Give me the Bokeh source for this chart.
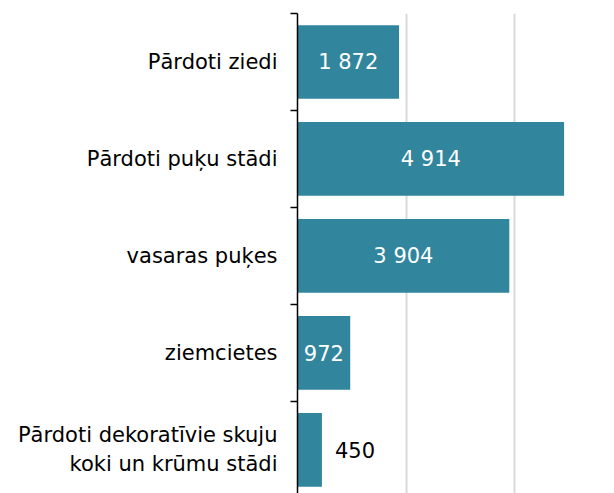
from bokeh.plotting import figure
from bokeh.models import Range1d, FixedTicker, ColumnDataSource
from bokeh.core.properties import value
from bokeh.embed import file_html
from bokeh.resources import INLINE

categories = ["Pārdoti ziedi", "Pārdoti puķu stādi", "vasaras puķes", "ziemcietes",
              "Pārdoti dekoratīvie skuju\nkoki un krūmu stādi"]
values = [1872, 4914, 3904, 972, 450]
grid_ticks = [2000, 4000]

FONT = "DejaVu Sans"
BAR = "#31859C"

ys = list(range(len(categories)))
labels = [f"{v:,}".replace(",", " ") for v in values]

p = figure(width=614, height=493, output_backend="svg", toolbar_location=None,
           x_range=Range1d(0, 5843), y_range=Range1d(4.45, -0.5),
           min_border_left=297, min_border_right=0, min_border_top=13, min_border_bottom=0)
p.outline_line_color = None
p.background_fill_color = "white"

p.hbar(y=ys, right=values, left=0, height=0.76, fill_color=BAR, line_color=None)

inside = [v >= 700 for v in values]
src_in = ColumnDataSource(dict(x=[v / 2 for v, i in zip(values, inside) if i],
                               y=[y for y, i in zip(ys, inside) if i],
                               t=[l for l, i in zip(labels, inside) if i]))
src_out = ColumnDataSource(dict(x=[v for v, i in zip(values, inside) if not i],
                                y=[y for y, i in zip(ys, inside) if not i],
                                t=[l for l, i in zip(labels, inside) if not i]))
p.text(x="x", y="y", text="t", source=src_in, text_color="white", text_align="center",
       text_baseline="middle", text_font=value(FONT), text_font_size="21px")
p.text(x="x", y="y", text="t", source=src_out, text_color="black", text_align="left",
       text_baseline="middle", x_offset=13, text_font=value(FONT), text_font_size="21px")

p.xaxis.visible = False
p.xgrid.ticker = FixedTicker(ticks=grid_ticks)
p.xgrid.grid_line_color = "#d9d9d9"
p.xgrid.grid_line_width = 2
p.ygrid.grid_line_color = None

yax = p.yaxis[0]
yax.ticker = FixedTicker(ticks=ys, minor_ticks=[y - 0.5 for y in ys] + [len(ys) - 0.5])
yax.major_label_overrides = {y: c for y, c in zip(ys, categories)}
yax.major_tick_out = 0
yax.major_tick_in = 0
yax.minor_tick_out = 7
yax.minor_tick_in = 0
yax.minor_tick_line_color = "black"
yax.minor_tick_line_width = 1.5
yax.axis_line_color = "black"
yax.axis_line_width = 1.5
yax.major_label_standoff = 13
yax.major_label_text_font = FONT
yax.major_label_text_font_size = "21px"
yax.major_label_text_color = "black"

open("out.html", "w").write(file_html(p, INLINE))
